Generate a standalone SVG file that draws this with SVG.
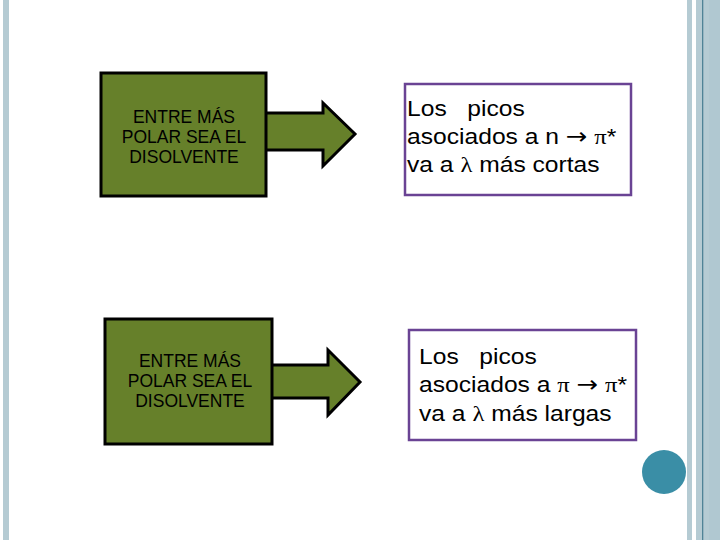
<svg xmlns="http://www.w3.org/2000/svg" width="720" height="540" viewBox="0 0 720 540">
<style>
.box{fill:#66802a;stroke:#000;stroke-width:3}
.res{fill:#fff;stroke:#6a4394;stroke-width:2.5}
.lt{font-family:"Liberation Sans",Arial,sans-serif;font-size:17.5px;fill:#000;text-anchor:middle}
.rt{font-family:"Liberation Sans",Arial,sans-serif;font-size:22px;fill:#000}
.sym{font-family:"Liberation Serif","Times New Roman",serif}
.arr{font-family:"DejaVu Sans",sans-serif;font-size:23px}
</style>
<rect width="720" height="540" fill="#fff"/>
<g id="frame">
<rect x="3" y="0" width="6" height="540" fill="#b5cbd3"/>
<rect x="687" y="0" width="5" height="540" fill="#b5cbd3"/>
<rect x="696" y="0" width="24" height="540" fill="#b5cbd3"/>
<rect x="709" y="0" width="11" height="540" fill="#b0c8d1"/>
<rect x="702" y="0" width="1.3" height="540" fill="#4f8396"/>
</g>
<g id="connectors">
<polygon class="box" points="250,113 323,113 323,103 355,134 323,166 323,150 250,150"/>
<polygon class="box" points="255,365 328,365 328,350 360,382 328,415 328,398 255,398"/>
</g>
<g id="node1">
<rect class="box" x="101" y="73" width="165" height="123"/>
<text class="lt" x="184" y="123">ENTRE MÁS</text>
<text class="lt" x="184" y="143">POLAR SEA EL</text>
<text class="lt" x="184" y="163">DISOLVENTE</text>
</g>
<g id="node2">
<rect class="box" x="105" y="319" width="167" height="125"/>
<text class="lt" x="190" y="367">ENTRE MÁS</text>
<text class="lt" x="190" y="387">POLAR SEA EL</text>
<text class="lt" x="190" y="407">DISOLVENTE</text>
</g>
<g id="result1">
<rect class="res" x="405" y="84" width="226" height="111"/>
<g transform="translate(407,0) scale(1.12,1)">
<text class="rt" x="0" y="116" xml:space="preserve">Los   picos</text>
<text class="rt" x="0" y="144" xml:space="preserve">asociados a n <tspan class="arr">→</tspan> <tspan class="sym">π</tspan>*</text>
<text class="rt" x="0" y="172">va a <tspan class="sym">λ</tspan> más cortas</text>
</g>
</g>
<g id="result2">
<rect class="res" x="409" y="330" width="227" height="110"/>
<g transform="translate(419,0) scale(1.12,1)">
<text class="rt" x="0" y="364" xml:space="preserve">Los   picos</text>
<text class="rt" x="0" y="392" xml:space="preserve">asociados a <tspan class="sym">π</tspan> <tspan class="arr">→</tspan> <tspan class="sym">π</tspan>*</text>
<text class="rt" x="0" y="421">va a <tspan class="sym">λ</tspan> más largas</text>
</g>
</g>
<g id="dot">
<circle cx="664" cy="472" r="22" fill="#3a8ea6"/>
</g>
</svg>
